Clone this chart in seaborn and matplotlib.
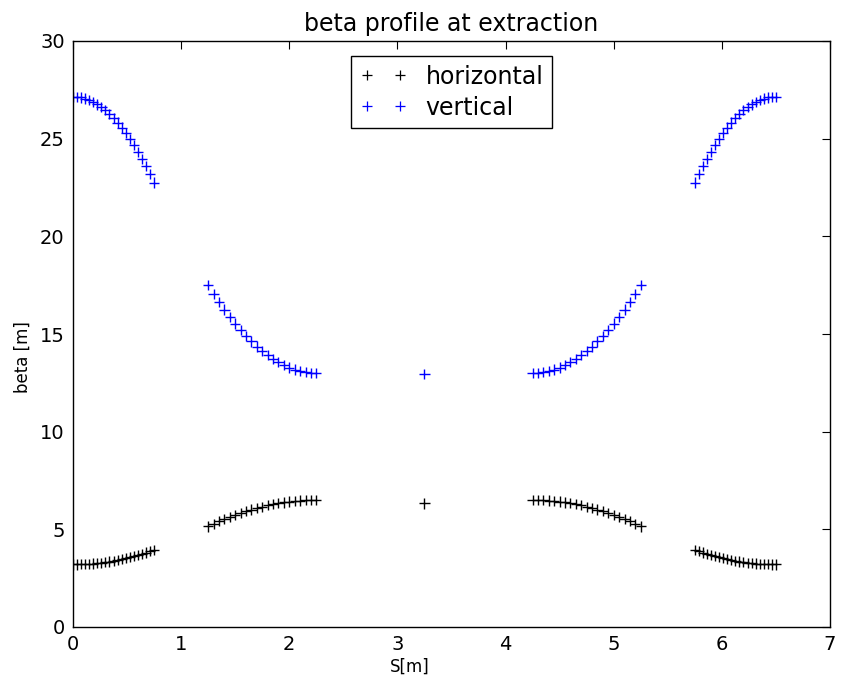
import matplotlib
matplotlib.use("Agg")
import matplotlib.pyplot as plt
import seaborn as sns
import pandas as pd
from matplotlib.lines import Line2D

# ---- data ----
s_seg_a = [0.0, 0.0375, 0.075, 0.1125, 0.15, 0.1875, 0.225, 0.2625, 0.3, 0.3375, 0.375,
           0.4125, 0.45, 0.4875, 0.525, 0.5625, 0.6, 0.6375, 0.675, 0.7125, 0.75]
s_seg_b = [1.25, 1.30, 1.35, 1.40, 1.45, 1.50, 1.55, 1.60, 1.65, 1.70, 1.75,
           1.80, 1.85, 1.90, 1.95, 2.00, 2.05, 2.10, 2.15, 2.20, 2.25]
s_mid = [3.25]
s_seg_c = [4.25, 4.30, 4.35, 4.40, 4.45, 4.50, 4.55, 4.60, 4.65, 4.70, 4.75,
           4.80, 4.85, 4.90, 4.95, 5.00, 5.05, 5.10, 5.15, 5.20, 5.25]
s_seg_d = [5.75, 5.7875, 5.825, 5.8625, 5.90, 5.9375, 5.975, 6.0125, 6.05, 6.0875, 6.125,
           6.1625, 6.20, 6.2375, 6.275, 6.3125, 6.35, 6.3875, 6.425, 6.4625, 6.50]

hor_a = [3.20, 3.20, 3.21, 3.22, 3.23, 3.25, 3.27, 3.29, 3.32, 3.35, 3.39,
         3.43, 3.47, 3.52, 3.57, 3.62, 3.68, 3.74, 3.81, 3.88, 3.95]
hor_b = [5.15, 5.28, 5.41, 5.52, 5.64, 5.74, 5.84, 5.93, 6.01, 6.09, 6.16,
         6.23, 6.28, 6.34, 6.38, 6.42, 6.45, 6.47, 6.49, 6.50, 6.50]
hor_mid = [6.33]
hor_c = [6.50, 6.50, 6.49, 6.47, 6.45, 6.42, 6.38, 6.34, 6.28, 6.23, 6.16,
         6.09, 6.01, 5.93, 5.84, 5.74, 5.64, 5.52, 5.41, 5.28, 5.15]
hor_d = [3.95, 3.88, 3.81, 3.74, 3.68, 3.62, 3.57, 3.52, 3.47, 3.43, 3.39,
         3.35, 3.32, 3.29, 3.27, 3.25, 3.23, 3.22, 3.21, 3.20, 3.20]

ver_a = [27.15, 27.14, 27.11, 27.05, 26.97, 26.88, 26.75, 26.61, 26.45, 26.26, 26.05,
         25.82, 25.57, 25.29, 24.99, 24.68, 24.33, 23.97, 23.59, 23.18, 22.75]
ver_b = [17.50, 17.06, 16.65, 16.25, 15.88, 15.53, 15.21, 14.90, 14.62, 14.36, 14.13,
         13.91, 13.72, 13.55, 13.41, 13.28, 13.18, 13.10, 13.05, 13.01, 13.00]
ver_mid = [12.95]
ver_c = [13.00, 13.01, 13.05, 13.10, 13.18, 13.28, 13.41, 13.55, 13.72, 13.91, 14.13,
         14.36, 14.62, 14.90, 15.21, 15.53, 15.88, 16.25, 16.65, 17.06, 17.50]
ver_d = [22.75, 23.18, 23.59, 23.97, 24.33, 24.68, 24.99, 25.29, 25.57, 25.82, 26.05,
         26.26, 26.45, 26.61, 26.75, 26.88, 26.97, 27.05, 27.11, 27.14, 27.15]

series_names = ["horizontal", "vertical"]
series_colors = {"horizontal": "#000000", "vertical": "#0000ff"}

s_all = s_seg_a + s_seg_b + s_mid + s_seg_c + s_seg_d
hor_all = hor_a + hor_b + hor_mid + hor_c + hor_d
ver_all = ver_a + ver_b + ver_mid + ver_c + ver_d

df = pd.concat([
    pd.DataFrame({"S": s_all, "beta": hor_all, "plane": "horizontal"}),
    pd.DataFrame({"S": s_all, "beta": ver_all, "plane": "vertical"}),
], ignore_index=True)

# ---- styling ----
sns.set_style("white")
plt.rcParams.update({
    "font.family": ["DejaVu Sans"],
    "text.color": "black",
    "axes.labelcolor": "black",
    "axes.edgecolor": "black",
    "axes.linewidth": 1.0,
    "xtick.direction": "in",
    "ytick.direction": "in",
    "xtick.top": True,
    "ytick.right": True,
    "xtick.major.size": 6,
    "ytick.major.size": 6,
    "xtick.major.pad": 6,
    "ytick.major.pad": 6,
    "xtick.color": "black",
    "ytick.color": "black",
    "xtick.labelsize": 14,
    "ytick.labelsize": 14,
})

fig = plt.figure(figsize=(8.46, 6.76), dpi=100)
ax = fig.add_axes([73 / 846, 1 - 627 / 676, (830 - 73) / 846, (627 - 41) / 676])

sns.scatterplot(data=df, x="S", y="beta", hue="plane", hue_order=series_names,
                palette=series_colors, marker="+", s=55, linewidth=1.0,
                legend=False, ax=ax)

ax.set_xlim(0, 7)
ax.set_ylim(0, 30)
ax.set_xticks(range(0, 8))
ax.set_yticks(range(0, 31, 5))
ax.set_xlabel("S[m]", fontsize=12)
ax.set_ylabel("beta [m]", fontsize=12)
ax.xaxis.set_label_coords(0.445, -0.052)
ax.yaxis.set_label_coords(-0.054, 0.46)
ax.set_title("beta profile at extraction", fontsize=17, pad=7)
for sp in ax.spines.values():
    sp.set_visible(True)
    sp.set_color("black")

handles = [Line2D([], [], ls="", marker="+", color=series_colors[n], ms=6.5, mew=0.9)
           for n in series_names]
leg = ax.legend(handles, series_names, loc="upper center", numpoints=2,
                fontsize=17, frameon=True, fancybox=False, framealpha=1,
                edgecolor="black", borderaxespad=0.65, handlelength=2.0,
                handletextpad=0.8, borderpad=0.35, labelspacing=0.3)
leg.get_frame().set_linewidth(1.0)

fig.savefig("out.png", dpi=100)
